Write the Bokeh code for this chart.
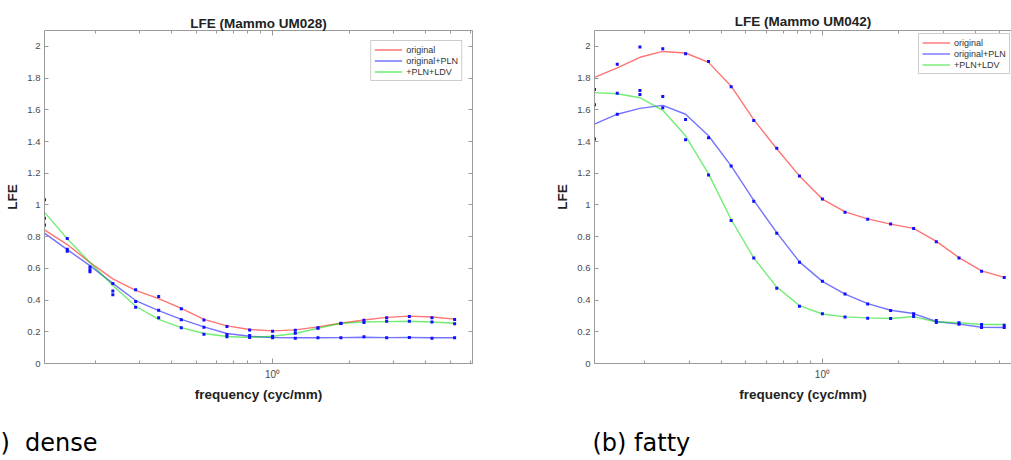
from bokeh.plotting import figure
from bokeh.models import FixedTicker, LogAxis, LinearAxis, Label, Range1d
from bokeh.layouts import row, column
from bokeh.embed import file_html
from bokeh.resources import INLINE

# ---------------- data ----------------
freq = [0.1265, 0.1555, 0.191, 0.235, 0.289, 0.356, 0.437, 0.5365, 0.661, 0.812,
        1.0, 1.228, 1.508, 1.857, 2.288, 2.811, 3.453, 4.238, 5.205]

series_names = ["original", "original+PLN", "+PLN+LDV"]

# (a) dense - Mammo UM028 : measured points
dense_original_pts = [1.032, 0.789, 0.609, 0.505, 0.465, 0.422, 0.345, 0.274, 0.233, 0.212,
                      0.204, 0.210, 0.226, 0.254, 0.272, 0.289, 0.297, 0.289, 0.278]
dense_ldv_pts = [0.916, 0.721, 0.592, 0.457, 0.391, 0.336, 0.276, 0.229, 0.183, 0.177,
                 0.172, 0.191, 0.222, 0.252, 0.258, 0.266, 0.266, 0.262, 0.251]
dense_pln_pts = [0.874, 0.708, 0.579, 0.434, 0.355, 0.289, 0.226, 0.185, 0.168, 0.164,
                 0.162, 0.160, 0.162, 0.162, 0.168, 0.162, 0.164, 0.160, 0.162]
# (a) dense : fitted curves
dense_original_fit = [0.843, 0.750, 0.637, 0.534, 0.461, 0.409, 0.347, 0.278, 0.237, 0.214,
                      0.206, 0.212, 0.231, 0.254, 0.274, 0.291, 0.299, 0.293, 0.280]
dense_pln_fit = [0.822, 0.718, 0.617, 0.505, 0.397, 0.334, 0.278, 0.231, 0.189, 0.172,
                 0.164, 0.162, 0.162, 0.163, 0.166, 0.163, 0.164, 0.162, 0.162]
dense_ldv_fit = [0.953, 0.787, 0.637, 0.492, 0.361, 0.278, 0.226, 0.189, 0.170, 0.164,
                 0.172, 0.189, 0.222, 0.254, 0.262, 0.264, 0.266, 0.262, 0.254]

# (b) fatty - Mammo UM042 : measured points
fatty_original_pts = [1.728, 1.887, 1.996, 1.985, 1.954, 1.904, 1.745, 1.532, 1.357, 1.182,
                      1.037, 0.954, 0.910, 0.879, 0.852, 0.768, 0.666, 0.582, 0.543]
fatty_pln_pts = [1.632, 1.705, 1.722, 1.684, 1.538, 1.424, 1.246, 1.023, 0.822, 0.639,
                 0.518, 0.438, 0.376, 0.334, 0.313, 0.271, 0.257, 0.246, 0.242]
fatty_ldv_pts = [1.415, 1.572, 1.697, 1.613, 1.411, 1.188, 0.902, 0.666, 0.474, 0.361,
                 0.313, 0.294, 0.286, 0.284, 0.296, 0.259, 0.248, 0.227, 0.227]
# (b) fatty : fitted curves
fatty_original_fit = [1.805, 1.864, 1.931, 1.968, 1.958, 1.899, 1.749, 1.538, 1.354, 1.183,
                      1.037, 0.956, 0.912, 0.879, 0.852, 0.770, 0.668, 0.584, 0.543]
fatty_pln_fit = [1.509, 1.572, 1.609, 1.628, 1.572, 1.436, 1.246, 1.029, 0.825, 0.641,
                 0.518, 0.438, 0.378, 0.336, 0.315, 0.265, 0.248, 0.229, 0.227]
fatty_ldv_fit = [1.708, 1.701, 1.676, 1.597, 1.436, 1.196, 0.908, 0.666, 0.482, 0.365,
                 0.312, 0.294, 0.288, 0.284, 0.296, 0.262, 0.257, 0.246, 0.246]

captions = [")\u00a0\u00a0dense", "(b) fatty"]
titles = ["LFE (Mammo UM028)", "LFE (Mammo UM042)"]

y_ticks = [0, 0.2, 0.4, 0.6, 0.8, 1.0, 1.2, 1.4, 1.6, 1.8, 2.0]
y_tick_labels = {0: "0", 1: "1", 2: "2"}
x_major_ticks = [1.0]
x_minor_ticks = [0.2, 0.3, 0.4, 0.5, 0.6, 0.7, 0.8, 0.9, 2, 3, 4, 5, 6]
x_tick_labels = {1: "10\u2070"}

# ---------------- style ----------------
FONT = "Liberation Sans"
AXC = "#9a9a9a"
TICKC = "#4a4a4a"
TEXTC = "#222222"
LINE_COLORS = ["#ff0000", "#0000ff", "#00dd00"]
DOT = "#1010ff"
PLOT_H = 420
CAP_H = 40


def style_axis(ax, show_labels=True, tick_in=4, minor_in=0):
    ax.axis_line_color = AXC
    ax.major_tick_line_color = AXC
    ax.minor_tick_line_color = AXC
    ax.major_tick_out = 0
    ax.minor_tick_out = 0
    ax.major_tick_in = tick_in
    ax.minor_tick_in = minor_in
    ax.major_label_text_font = FONT
    ax.major_label_text_color = TICKC
    ax.major_label_text_font_size = "9.5px"
    if not show_labels:
        ax.major_label_text_font_size = "1px"
        ax.major_label_text_alpha = 0
        ax.major_label_standoff = 0


def make_panel(title, pts, fits, width, b_left, b_right, b_top, b_bottom, x_end,
               right_axis, legend_loc, title_offset, title_standoff):
    p = figure(width=width, height=PLOT_H, x_axis_type="log",
               x_range=Range1d(freq[0], x_end), y_range=Range1d(0, 2.1),
               output_backend="svg", toolbar_location=None, title=title,
               min_border_left=b_left, min_border_right=b_right,
               min_border_top=b_top, min_border_bottom=b_bottom,
               background_fill_color="white", border_fill_color="white")
    p.outline_line_color = None
    p.grid.visible = False

    p.title.text_font = FONT
    p.title.text_font_size = "13.5px"
    p.title.text_font_style = "bold"
    p.title.text_color = TEXTC
    p.title.align = "center"
    p.title.standoff = title_standoff
    p.title.offset = title_offset

    xt = FixedTicker(ticks=x_major_ticks, minor_ticks=x_minor_ticks)
    yt = FixedTicker(ticks=y_ticks)

    xa = p.xaxis[0]
    xa.ticker = xt
    style_axis(xa, True, 5, 3)
    xa.major_label_overrides = x_tick_labels
    xa.major_label_text_font_size = "10px"
    xa.major_label_standoff = 5
    xa.axis_label = "frequency (cyc/mm)"

    ya = p.yaxis[0]
    ya.ticker = yt
    style_axis(ya, True, 4, 0)
    ya.major_label_overrides = y_tick_labels
    ya.major_label_standoff = 4
    ya.axis_label = "LFE"

    for ax in (xa, ya):
        ax.axis_label_text_font = FONT
        ax.axis_label_text_font_size = "13.5px"
        ax.axis_label_text_font_style = "bold"
        ax.axis_label_text_color = TEXTC
        ax.axis_label_standoff = 4

    top = LogAxis(ticker=FixedTicker(ticks=x_major_ticks, minor_ticks=x_minor_ticks))
    style_axis(top, False, 5, 3)
    p.add_layout(top, "above")
    if right_axis:
        ra = LinearAxis(ticker=FixedTicker(ticks=y_ticks))
        style_axis(ra, False, 4, 0)
        p.add_layout(ra, "right")

    for name, fit, col in zip(series_names, fits, LINE_COLORS):
        p.line(freq, fit, line_color=col, line_alpha=0.55, line_width=1.4,
               legend_label=name)
    for vals in pts:
        p.scatter(freq, vals, marker="square", size=3, fill_color=DOT,
                  line_color=None)

    lg = p.legend[0]
    lg.location = legend_loc
    lg.margin = 10 if isinstance(legend_loc, str) else 0
    lg.label_text_font = FONT
    lg.label_text_font_size = "9px"
    lg.label_text_color = "#333333"
    lg.label_height = 11
    lg.glyph_height = 11
    lg.glyph_width = 28
    lg.label_standoff = 4
    lg.spacing = 0
    lg.padding = 3
    lg.border_line_color = AXC
    lg.border_line_width = 1
    lg.background_fill_color = "white"
    lg.background_fill_alpha = 1
    return p


def make_caption(text, width, x):
    c = figure(width=width, height=CAP_H, x_range=Range1d(0, 1), y_range=Range1d(0, 1),
               output_backend="svg", toolbar_location=None,
               x_axis_location=None, y_axis_location=None, min_border=0,
               background_fill_color="white", border_fill_color="white")
    c.outline_line_color = None
    c.grid.visible = False
    c.add_layout(Label(x=x, y=18, x_units="screen", y_units="screen", text=text,
                       text_align="left", text_baseline="alphabetic",
                       text_font="DejaVu Sans", text_font_size="24px",
                       text_color="black"))
    return c


p1 = make_panel(titles[0],
                [dense_original_pts, dense_ldv_pts, dense_pln_pts],
                [dense_original_fit, dense_pln_fit, dense_ldv_fit],
                520, 44, 48, 25, PLOT_H - 363, 6.12, True, "top_right", 0, 0)
p2 = make_panel(titles[1],
                [fatty_original_pts, fatty_pln_pts, fatty_ldv_pts],
                [fatty_original_fit, fatty_pln_fit, fatty_ldv_fit],
                491, 74, 0, 30, PLOT_H - 366, 5.56, False, (324, 289), 4, 3)

c1 = make_caption(captions[0], 520, 0)
c2 = make_caption(captions[1], 491, 72)

layout = column(row(p1, p2, spacing=0), row(c1, c2, spacing=0), spacing=0)
open("out.html", "w").write(file_html(layout, INLINE))
